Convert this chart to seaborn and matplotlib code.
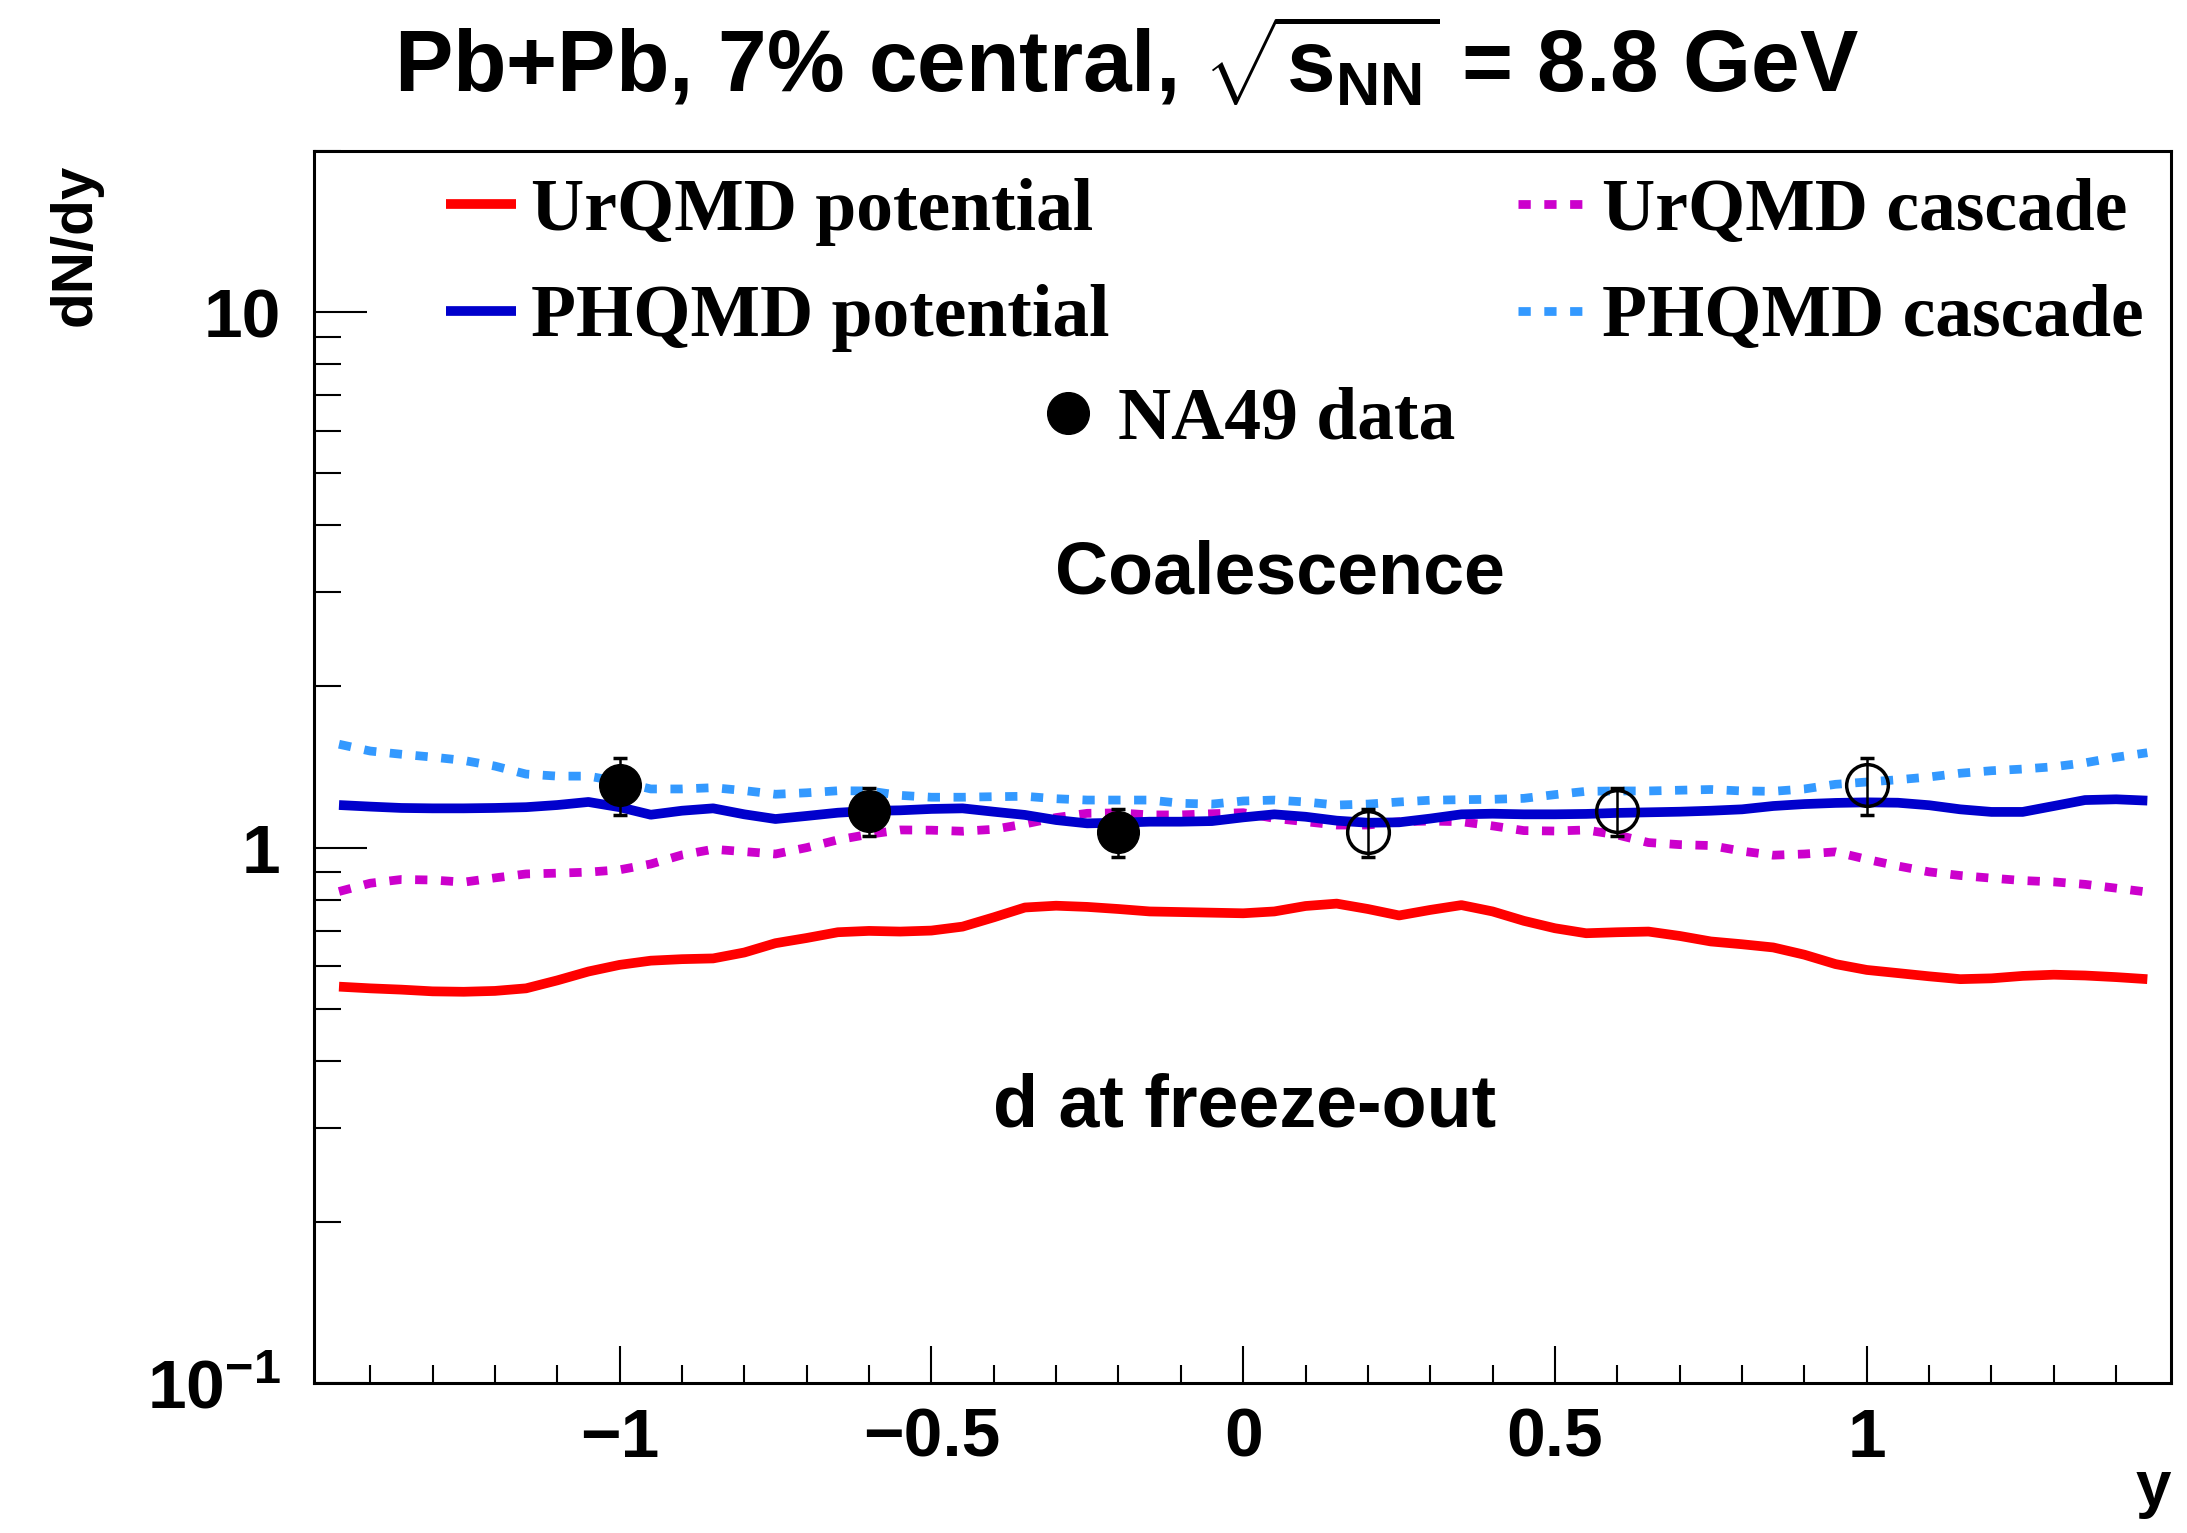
import matplotlib
matplotlib.use("Agg")
import matplotlib.pyplot as plt
import matplotlib.ticker as mticker
import pandas as pd
import seaborn as sns

# ---------------- data ----------------
rap = [-1.45, -1.40, -1.35, -1.30, -1.25, -1.20, -1.15, -1.10, -1.05, -1.00,
       -0.95, -0.90, -0.85, -0.80, -0.75, -0.70, -0.65, -0.60, -0.55, -0.50,
       -0.45, -0.40, -0.35, -0.30, -0.25, -0.20, -0.15, -0.10, -0.05, 0.00,
       0.05, 0.10, 0.15, 0.20, 0.25, 0.30, 0.35, 0.40, 0.45, 0.50,
       0.55, 0.60, 0.65, 0.70, 0.75, 0.80, 0.85, 0.90, 0.95, 1.00,
       1.05, 1.10, 1.15, 1.20, 1.25, 1.30, 1.35, 1.40, 1.45]

urqmd_potential = [0.550, 0.546, 0.543, 0.539, 0.538, 0.540, 0.546, 0.565, 0.587, 0.604,
                   0.615, 0.619, 0.621, 0.637, 0.663, 0.678, 0.695, 0.699, 0.697, 0.700,
                   0.712, 0.741, 0.773, 0.779, 0.775, 0.768, 0.760, 0.758, 0.756, 0.754,
                   0.760, 0.778, 0.786, 0.768, 0.747, 0.765, 0.781, 0.760, 0.730, 0.707,
                   0.692, 0.695, 0.697, 0.684, 0.668, 0.660, 0.651, 0.631, 0.606, 0.591,
                   0.583, 0.575, 0.568, 0.570, 0.576, 0.579, 0.577, 0.573, 0.568]

phqmd_potential = [1.201, 1.193, 1.186, 1.184, 1.184, 1.186, 1.190, 1.201, 1.217, 1.190,
                   1.152, 1.172, 1.184, 1.154, 1.131, 1.146, 1.162, 1.171, 1.174, 1.181,
                   1.184, 1.167, 1.151, 1.126, 1.110, 1.113, 1.118, 1.118, 1.121, 1.139,
                   1.154, 1.142, 1.123, 1.113, 1.115, 1.133, 1.154, 1.157, 1.154, 1.154,
                   1.156, 1.161, 1.164, 1.167, 1.172, 1.179, 1.196, 1.206, 1.212, 1.215,
                   1.213, 1.200, 1.179, 1.166, 1.166, 1.196, 1.227, 1.231, 1.224]

urqmd_cascade = [0.828, 0.858, 0.872, 0.870, 0.862, 0.878, 0.893, 0.896, 0.900, 0.909,
                 0.932, 0.969, 0.993, 0.983, 0.973, 1.000, 1.034, 1.059, 1.079, 1.078,
                 1.073, 1.082, 1.107, 1.138, 1.159, 1.161, 1.151, 1.151, 1.157, 1.162,
                 1.134, 1.118, 1.102, 1.102, 1.118, 1.121, 1.118, 1.098, 1.076, 1.074,
                 1.079, 1.056, 1.022, 1.013, 1.009, 0.985, 0.968, 0.973, 0.982, 0.951,
                 0.924, 0.901, 0.887, 0.877, 0.868, 0.863, 0.854, 0.840, 0.826]

phqmd_cascade = [1.560, 1.515, 1.494, 1.476, 1.455, 1.420, 1.372, 1.360, 1.360, 1.328,
                 1.287, 1.287, 1.294, 1.278, 1.258, 1.266, 1.277, 1.276, 1.252, 1.242,
                 1.242, 1.245, 1.247, 1.234, 1.227, 1.227, 1.227, 1.210, 1.206, 1.222,
                 1.227, 1.217, 1.201, 1.206, 1.217, 1.226, 1.229, 1.231, 1.236, 1.256,
                 1.274, 1.276, 1.276, 1.280, 1.284, 1.276, 1.274, 1.287, 1.313, 1.326,
                 1.339, 1.355, 1.377, 1.392, 1.402, 1.416, 1.440, 1.475, 1.504]

na49_y = [-1.0, -0.6, -0.2]
na49_dndy = [1.31, 1.17, 1.07]
na49_err = [0.16, 0.12, 0.11]

refl_y = [0.2, 0.6, 1.0]
refl_dndy = [1.07, 1.17, 1.31]
refl_err = [0.11, 0.12, 0.16]

x_ticks = [-1, -0.5, 0, 0.5, 1]
x_ticklabels = ["\u22121", "\u22120.5", "0", "0.5", "1"]
y_ticks = [0.1, 1, 10]
y_ticklabels = ["$10^{-1}$", "1", "10"]

# ---------------- style ----------------
sns.set_theme(style="white")
plt.rcParams["font.family"] = ["Liberation Sans", "DejaVu Sans"]
plt.rcParams["font.weight"] = "bold"
plt.rcParams["mathtext.fontset"] = "custom"
plt.rcParams["mathtext.rm"] = "Liberation Sans:bold"
plt.rcParams["mathtext.it"] = "Liberation Sans:bold"
plt.rcParams["mathtext.bf"] = "Liberation Sans:bold"
plt.rcParams["axes.unicode_minus"] = True
for k in ["text.color", "axes.labelcolor", "xtick.color", "ytick.color", "axes.edgecolor"]:
    plt.rcParams[k] = "black"

c_red = "#ff0000"
c_blue = "#0000cc"
c_mag = "#cc00cc"
c_cyan = "#3399ff"
dot = (0, (1.4, 1.55))

fig = plt.figure(figsize=(21.87, 15.33), dpi=100)
ax = fig.add_axes([0.1436, 0.0978, 0.8491, 0.8037])

df = pd.DataFrame({
    "y": rap * 4,
    "dNdy": urqmd_cascade + phqmd_cascade + urqmd_potential + phqmd_potential,
    "model": (["UrQMD cascade"] * len(rap) + ["PHQMD cascade"] * len(rap)
              + ["UrQMD potential"] * len(rap) + ["PHQMD potential"] * len(rap)),
})

styles = {
    "UrQMD cascade": dict(color=c_mag, lw=6.3, ls=dot),
    "PHQMD cascade": dict(color=c_cyan, lw=6.3, ls=dot),
    "UrQMD potential": dict(color=c_red, lw=7.0, ls="-"),
    "PHQMD potential": dict(color=c_blue, lw=7.0, ls="-"),
}
handles = {}
for name, st in styles.items():
    sub = df[df["model"] == name]
    sns.lineplot(data=sub, x="y", y="dNdy", ax=ax, color=st["color"],
                 linewidth=st["lw"], linestyle=st["ls"], sort=False,
                 estimator=None, legend=False)
    ln = ax.get_lines()[-1]
    ln.set_dash_capstyle("butt")
    ln.set_solid_capstyle("butt")
    ln.set_solid_joinstyle("round")
    handles[name] = ln

eb = ax.errorbar(na49_y, na49_dndy, yerr=na49_err, fmt="o", ms=30,
                 mfc="black", mec="black", ecolor="black", elinewidth=1.8,
                 capsize=5, capthick=2.5, zorder=10)
ax.errorbar(refl_y, refl_dndy, yerr=refl_err, fmt="o", ms=30,
            mfc="none", mec="black", mew=2.5, ecolor="black", elinewidth=1.8,
            capsize=5, capthick=2.5, zorder=10)

ax.set_yscale("log")
ax.set_xlim(-1.49, 1.488)
ax.set_ylim(0.1, 20)

ax.xaxis.set_major_locator(mticker.FixedLocator(x_ticks))
ax.xaxis.set_major_formatter(mticker.FixedFormatter(x_ticklabels))
ax.xaxis.set_minor_locator(mticker.MultipleLocator(0.1))
ax.yaxis.set_major_locator(mticker.FixedLocator(y_ticks))
ax.yaxis.set_major_formatter(mticker.FixedFormatter(y_ticklabels))
ax.yaxis.set_minor_locator(mticker.LogLocator(base=10, subs=range(2, 10)))
ax.yaxis.set_minor_formatter(mticker.NullFormatter())

ax.tick_params(axis="both", which="both", direction="in", colors="black",
               top=False, right=False, bottom=True, left=True, labelsize=50)
ax.tick_params(axis="y", which="major", length=38, width=1.5, pad=24)
ax.tick_params(axis="y", which="minor", length=19.5, width=1.5)
ax.tick_params(axis="x", which="major", length=27, width=1.5, pad=17)
ax.tick_params(axis="x", which="minor", length=13, width=1.5)
for lab in ax.get_xticklabels() + ax.get_yticklabels():
    lab.set_fontweight("bold")

for sp in ax.spines.values():
    sp.set_visible(True)
    sp.set_color("black")
    sp.set_linewidth(2.2)

ax.set_xlabel("y", fontsize=46, fontweight="bold", loc="right")
ax.xaxis.set_label_coords(1.0, -0.062)
ax.set_ylabel("dN/dy", fontsize=42, fontweight="bold", loc="top")
ax.yaxis.set_label_coords(-0.114, 0.99)

fig.text(0.515, 0.959, "Pb+Pb, 7% central, $\\sqrt{s_{NN}}$ = 8.8 GeV",
         fontsize=63, fontweight="bold", ha="center", va="center")

ax.text(0.520, 0.657, "Coalescence", transform=ax.transAxes, fontsize=53,
        fontweight="bold", ha="center", va="center")
ax.text(0.501, 0.224, "d at freeze-out", transform=ax.transAxes, fontsize=53,
        fontweight="bold", ha="center", va="center")

leg_font = {"family": ["Liberation Serif", "DejaVu Serif"], "weight": "bold", "size": 53}
order = ["UrQMD potential", "PHQMD potential", "UrQMD cascade", "PHQMD cascade"]
leg1 = ax.legend([handles[k] for k in order], order, ncol=2, prop=leg_font,
                 frameon=False, loc="upper left", bbox_to_anchor=(0.071, 0.978),
                 borderpad=0, borderaxespad=0, handlelength=0.95,
                 handletextpad=0.2, columnspacing=5.55, labelspacing=0.52)
ax.add_artist(leg1)
ax.legend([eb[0]], ["NA49 data"], prop=leg_font, frameon=False,
          loc="upper left", bbox_to_anchor=(0.394, 0.8085), borderpad=0,
          borderaxespad=0, handlelength=0.6, handletextpad=0.38)

fig.savefig("out.png", dpi=100, facecolor="white")
